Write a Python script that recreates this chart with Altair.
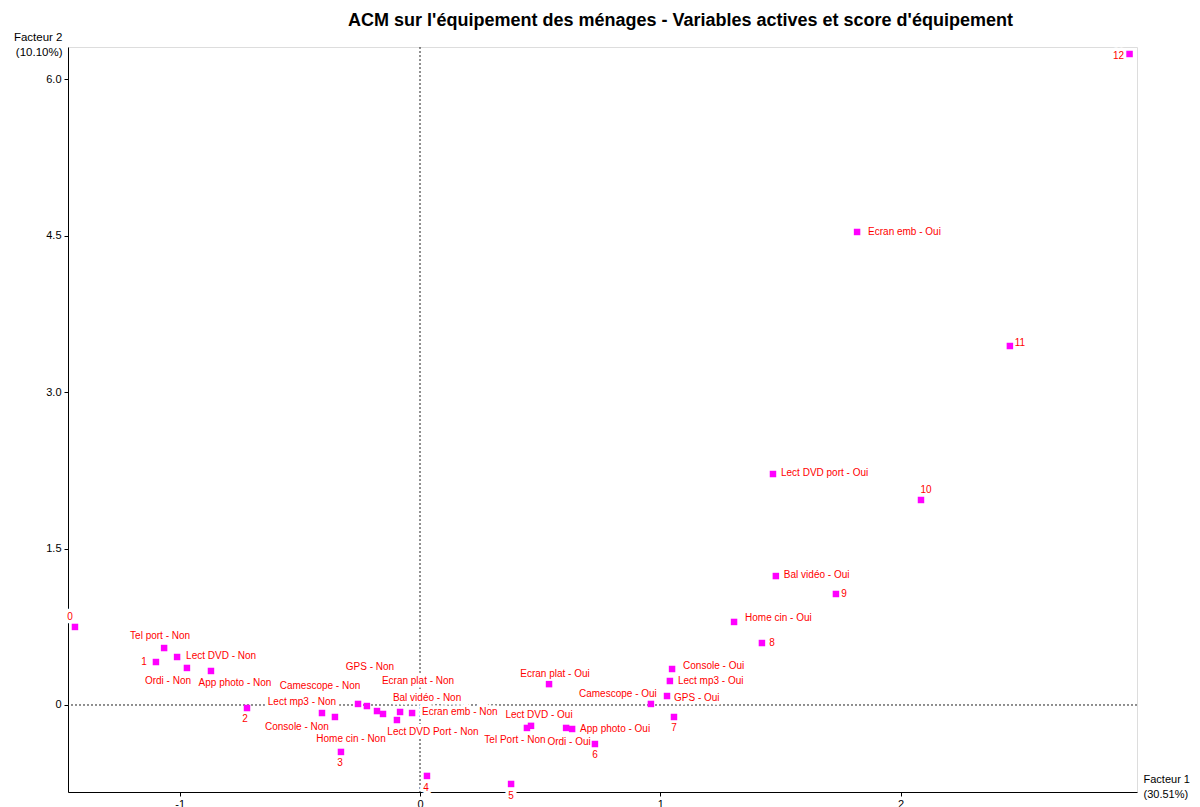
import altair as alt
import pandas as pd

# ---- data ----
names = [
    "Tel port - Non", "Lect DVD - Non", "Ordi - Non", "App photo - Non",
    "Lect mp3 - Non", "Console - Non", "Camescope - Non", "GPS - Non",
    "Home cin - Non", "Ecran plat - Non", "Bal vidéo - Non", "Ecran emb - Non",
    "Lect DVD Port - Non",
    "Lect DVD - Oui", "Tel Port - Non", "Ecran plat - Oui", "Ordi - Oui",
    "App photo - Oui", "Camescope - Oui", "GPS - Oui", "Lect mp3 - Oui",
    "Console - Oui", "Home cin - Oui", "Bal vidéo - Oui", "Lect DVD port - Oui",
    "Ecran emb - Oui",
    "0", "1", "2", "3", "4", "5", "6", "7", "8", "9", "10", "11", "12",
]
f1 = [
    -1.065, -1.011, -0.970, -0.870,
    -0.408, -0.354, -0.258, -0.221,
    -0.179, -0.154, -0.083, -0.033,
    -0.096,
    0.462, 0.445, 0.537, 0.608,
    0.633, 0.961, 1.028, 1.040,
    1.049, 1.307, 1.481, 1.469,
    1.819,
    -1.436, -1.099, -0.720, -0.329, 0.029, 0.379, 0.728, 1.057, 1.423, 1.731, 2.085, 2.455, 2.953,
]
f2 = [
    0.546, 0.460, 0.355, 0.326,
    -0.077, -0.115, 0.010, -0.010,
    -0.058, -0.086, -0.067, -0.077,
    -0.144,
    -0.200, -0.220, 0.200, -0.220,
    -0.230, 0.010, 0.086, 0.230,
    0.345, 0.796, 1.236, 2.214,
    4.534,
    0.748, 0.412, -0.029, -0.450, -0.680, -0.757, -0.374, -0.115, 0.594, 1.064, 1.965, 3.441, 6.240,
]

# ---- label layout (pixel offsets from each point; style only) ----
lab_dx = [
    -4, 9, -19, 24,
    -20, -38, -38, 3,
    -26, 35, 27, 10,
    36,
    8, -12, 6, 3,
    8, -33, 7, 8,
    11, 11, 8, 8,
    11,
    -5, -12, -2, -1, -1, 0, 0, 0, 10, 8, 5, 10, -11,
]
lab_dy = [
    -12, -1, 13, 12,
    -11, 10, -18, -39,
    28, -33, -14, -1,
    12,
    -11, 12, -10, 14,
    0, -10, 2, 0,
    -3, -4, -1, -1,
    0,
    -10, 0, 11, 11, 12, 12, 11, 11, 0, 0, -10, -3, 2,
]
lab_left = [
    False, True, False, False,
    False, False, False, False,
    False, False, False, True,
    False,
    False, False, False, False,
    True, False, True, True,
    True, True, True, True,
    True,
    False, False, False, False, False, False, False, False, False, False, False, False, False,
]

W, H = 1069, 745
XMIN, XMAX = -1.465, 2.984
YMIN, YMAX = -0.834, 6.307
kx = (XMAX - XMIN) / W
ky = (YMAX - YMIN) / H

df = pd.DataFrame({"name": names, "x": f1, "y": f2})
df["lx"] = [x + dx * kx for x, dx in zip(f1, lab_dx)]
df["ly"] = [y - dy * ky for y, dy in zip(f2, lab_dy)]
df["al"] = ["left" if b else "center" for b in lab_left]

FONT = "Liberation Sans"
xs = alt.Scale(domain=[XMIN, XMAX], nice=False, zero=False)
ys = alt.Scale(domain=[YMIN, YMAX], nice=False, zero=False)

xaxis = alt.Axis(
    values=[-1, 0, 1, 2], labelExpr="'' + datum.value", grid=False,
    title=["Facteur 1", "(30.51%)"], titleAngle=0, titleX=W + 6, titleY=-19,
    titleAlign="left", titleBaseline="top", titleFontWeight="normal",
    titleFontSize=11, titleFont=FONT, titleColor="#000000", titleLineHeight=15,
    labelFont=FONT, labelFontSize=11, labelColor="#000000", labelPadding=2,
    domainColor="#000000", tickColor="#000000", tickSize=4,
)
yaxis = alt.Axis(
    values=[0, 1.5, 3, 4.5, 6],
    labelExpr="datum.value == 0 ? '0' : format(datum.value, '.1f')", grid=False,
    title=["Facteur 2", "(10.10%)"], titleAngle=0, titleX=-6, titleY=-16,
    titleAlign="right", titleBaseline="top", titleFontWeight="normal",
    titleFontSize=11.5, titleFont=FONT, titleColor="#000000", titleLineHeight=15,
    labelFont=FONT, labelFontSize=11, labelColor="#000000", labelPadding=3,
    domainColor="#000000", tickColor="#000000", tickSize=4,
)

zero = pd.DataFrame({"z": [0]})
vrule = alt.Chart(zero).mark_rule(color="#222222", strokeDash=[2, 2], strokeWidth=1).encode(
    x=alt.X("z:Q", scale=xs, axis=xaxis)
)
hrule = alt.Chart(zero).mark_rule(color="#222222", strokeDash=[2, 2], strokeWidth=1).encode(
    y=alt.Y("z:Q", scale=ys, axis=yaxis)
)

base = alt.Chart(df)
lx = alt.X("lx:Q", scale=xs, axis=xaxis)
ly = alt.Y("ly:Q", scale=ys, axis=yaxis)

def text_layer(align, halo):
    kw = dict(font=FONT, fontSize=10, align=align, baseline="middle")
    if halo:
        kw.update(fill="white", stroke="white", strokeWidth=7, strokeJoin="round")
    else:
        kw.update(color="#FF0000")
    return base.transform_filter(alt.datum.al == align).mark_text(**kw).encode(
        x=lx, y=ly, text="name:N"
    )

halo_c = text_layer("center", True)
halo_l = text_layer("left", True)
pts = base.mark_square(size=42, color="#FF00FF", opacity=1).encode(
    x=alt.X("x:Q", scale=xs, axis=xaxis),
    y=alt.Y("y:Q", scale=ys, axis=yaxis),
)
txt_c = text_layer("center", False)
txt_l = text_layer("left", False)

chart = alt.layer(vrule, hrule, halo_c, halo_l, pts, txt_c, txt_l).properties(
    width=W, height=H,
    title=alt.TitleParams(
        "ACM sur l'équipement des ménages - Variables actives et score d'équipement",
        font=FONT, fontSize=18, fontWeight="bold", color="#000000",
        anchor="middle", dx=78, offset=1,
    ),
    padding={"left": 60, "top": 39, "right": 55, "bottom": 16},
    autosize=alt.AutoSizeParams(type="none"),
).configure_view(stroke="#808080", strokeWidth=2).configure(background="white")

chart.save("out.html", embed_options={"renderer": "svg", "actions": False})
